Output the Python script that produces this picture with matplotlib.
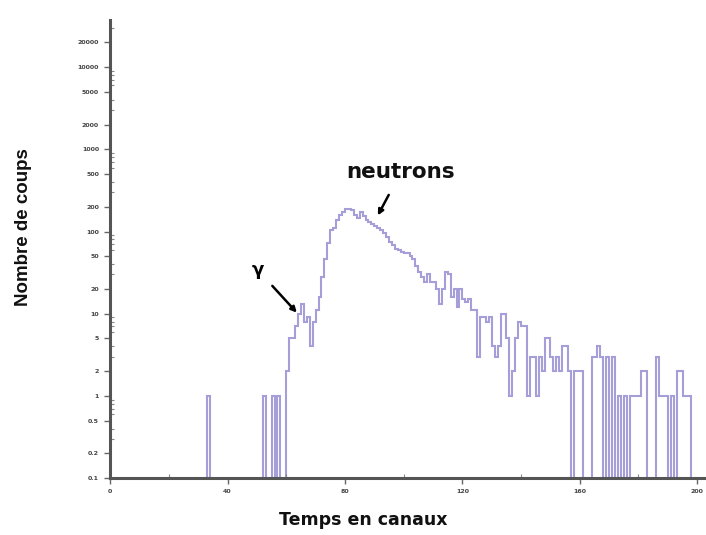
import numpy as np
import matplotlib.pyplot as plt
from matplotlib.ticker import FixedLocator, LogLocator, NullFormatter

# Contenu des canaux 0..199
canaux = np.arange(200)
coups = np.zeros(200)
coups[33] = 1
coups[52] = 1
coups[55] = 1
coups[57] = 1
coups[60:113] = [2, 5, 5, 7, 10, 13, 8, 9, 4, 8,
                 11, 16, 28, 46, 73, 105, 110, 140, 160, 175,
                 186, 190, 185, 160, 148, 175, 155, 140, 130, 125,
                 116, 110, 105, 95, 85, 75, 69, 62, 60, 57,
                 55, 55, 50, 46, 38, 32, 28, 24, 30, 24,
                 24, 20, 13]
coups[113:200] = [20, 32, 30, 16, 20, 12, 20, 15, 14, 15,
                  11, 11, 3, 9, 9, 8, 9, 4, 3, 4,
                  10, 10, 5, 1, 2, 5, 8, 7, 7, 1,
                  3, 3, 1, 3, 2, 5, 5, 3, 2, 3,
                  2, 4, 4, 2, 0, 2, 2, 2, 0, 0,
                  0, 3, 3, 4, 3, 0, 3, 0, 3, 0,
                  1, 0, 1, 0, 1, 1, 1, 1, 2, 2,
                  0, 0, 0, 3, 1, 1, 1, 0, 1, 0,
                  2, 2, 1, 1, 1, 0, 0]

y_ticks = [0.1, 0.2, 0.5, 1, 2, 5, 10, 20, 50, 100, 200, 500,
           1000, 2000, 5000, 10000, 20000]
y_labels = ['0.1', '0.2', '0.5', '1', '2', '5', '10', '20', '50', '100',
            '200', '500', '1000', '2000', '5000', '10000', '20000']
x_ticks = [0, 40, 80, 120, 160, 200]

couleur = '#a69ed8'

fig = plt.figure(figsize=(7.06, 5.35), dpi=100)
ax = fig.add_axes([0.156, 0.1065, 0.844, 0.857])

# les canaux vides descendent jusqu'au bas de l'axe
vals = np.where(coups > 0, coups, 0.01)
edges = np.append(canaux, 200)
ax.stairs(vals, edges, baseline=0.01, color=couleur, lw=1.5)

ax.set_yscale('log')
ax.set_ylim(0.1, 38000)
ax.set_xlim(0, 203)

ax.yaxis.set_major_locator(FixedLocator(y_ticks))
ax.set_yticklabels(y_labels, fontsize=4.5, fontweight='bold', color='#444444')
ax.yaxis.set_minor_locator(LogLocator(base=10, subs=np.arange(1, 10)))
ax.yaxis.set_minor_formatter(NullFormatter())
ax.set_xticks(x_ticks)
ax.set_xticklabels([str(v) for v in x_ticks], fontsize=4.5,
                   fontweight='bold', color='#444444')
ax.set_xticks([20, 60, 100, 140, 180], minor=True)

ax.tick_params(axis='both', which='major', length=4, width=1,
               color='#666666', pad=4)
ax.tick_params(axis='both', which='minor', length=3, width=0.8,
               color='#888888', direction='in')

for s in ['top', 'right']:
    ax.spines[s].set_visible(False)
for s in ['left', 'bottom']:
    ax.spines[s].set_color('#555555')
    ax.spines[s].set_linewidth(2.2)

# titres des axes (pas centrés sur l'axe dans l'original)
fig.text(363 / 706, 1 - 520 / 535, 'Temps en canaux', fontsize=12.5,
         fontweight='bold', ha='center', va='center', color='#111111')
fig.text(24 / 706, 1 - 227 / 535, 'Nombre de coups', fontsize=13.5,
         fontweight='bold', family='Liberation Sans', rotation=90,
         ha='center', va='center', color='#111111')

ax.annotate('γ', xy=(63.6, 10.3), xytext=(50.3, 34),
            fontsize=13, fontweight='bold', ha='center', va='center',
            arrowprops=dict(arrowstyle='-|>', color='black', lw=1.8,
                            mutation_scale=8, shrinkA=6, shrinkB=0))
ax.annotate('neutrons', xy=(91.2, 157), xytext=(99, 525),
            fontsize=15.5, fontweight='bold',
            ha='center', va='center', color='#111111',
            arrowprops=dict(arrowstyle='-|>', color='black', lw=1.8,
                            mutation_scale=8, shrinkA=8, shrinkB=0))

plt.savefig('out.png', dpi=100)
